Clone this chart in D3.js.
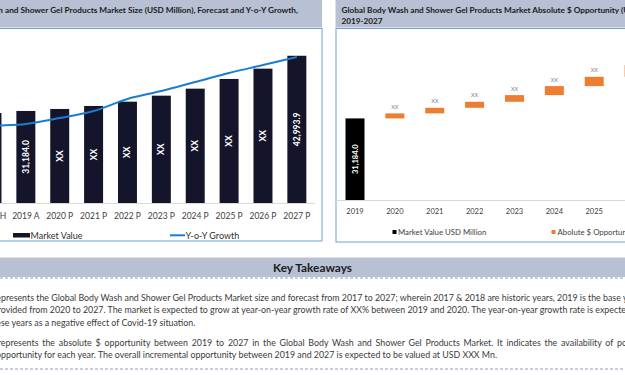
<!DOCTYPE html>
<html><head><meta charset="utf-8">
<script src="https://cdn.jsdelivr.net/npm/d3@7"></script>
<style>html,body{margin:0;padding:0;background:#fff;overflow:hidden}</style>
</head><body>
<svg id="c" width="625" height="375"></svg>
<script>
// ---------- DATA ----------
const sizeCategories = ["2017 H","2018 H","2019 A","2020 P","2021 P","2022 P","2023 P","2024 P","2025 P","2026 P","2027 P"];
const marketValue = [30300, 30756, 31184, 31611, 32253, 33173, 34457, 35955, 38030, 40234, 42993.9];
const marketLabels = ["XX","XX","31,184.0","XX","XX","XX","XX","XX","XX","XX","42,993.9"];
const yoyGrowth = [3.7, 3.85, 3.95, 4.25, 4.6, 5.2, 5.6, 6.05, 6.5, 6.9, 7.3];

const oppCategories = ["2019","2020","2021","2022","2023","2024","2025","2026","2027"];
const oppBase = 31184.0;
const oppIncrements = [1910, 2140, 2290, 2560, 3440, 3550, 4470, 4970];
const oppLabels = ["31,184.0","XX","XX","XX","XX","XX","XX","XX","XX"];

const leftTitle = ["Global Body Wash ", "and Shower Gel Products Market Size (USD Million), Forecast and Y-o-Y Growth,", "2017-2027"];
const rightTitle = ["Global Body Wash and Shower Gel Products Market Absolute $ Opportunity (USD Million),", "2019-2027"];
const leftLegend = ["Market Value", "Y-o-Y Growth"];
const rightLegend = ["Market Value USD Million", "Abolute $ Opportunity"];
const takeawayTitle = "Key Takeaways";
// [cut prefix, full line]
const takeawayLines = [
  ["re", "represents the Global Body Wash and Shower Gel Products Market size and forecast from 2017 to 2027; wherein 2017 & 2018 are historic years, 2019 is the base year, and forecast is"],
  ["pr", "provided from 2020 to 2027. The market is expected to grow at year-on-year growth rate of XX% between 2019 and 2020. The year-on-year growth rate is expected to decline in"],
  ["the", "these years as a negative effect of Covid-19 situation."],
  ["r", "represents the absolute $ opportunity between 2019 to 2027 in the Global Body Wash and Shower Gel Products Market. It indicates the availability of potential growth"],
  ["o", "opportunity for each year. The overall incremental opportunity between 2019 and 2027 is expected to be valued at USD XXX Mn."]
];

// ---------- HELPERS ----------
const svg = d3.select("#c");
const FONT = "Lato, 'Open Sans', sans-serif";
function textWidth(str, size, weight) {
  const t = svg.append("text").attr("font-family", FONT).attr("font-size", size)
    .attr("font-weight", weight || 400).style("white-space", "pre").text(str);
  const w = t.node().getComputedTextLength(); t.remove(); return w;
}
function fitSize(str, width, weight) { return 20 * width / textWidth(str, 20, weight); }

const BAND = "#b7c1d3", BORDER = "#6fa1d8", NAVY = "#14142b", BLUE = "#1b7dd0", ORANGE = "#ee7d31", AXIS = "#d9d9d9", TXT = "#404040";

// ---------- LEFT PANEL ----------
svg.append("rect").attr("x", -10).attr("y", 0).attr("width", 332).attr("height", 27.5).attr("fill", BAND);
svg.append("rect").attr("x", -10).attr("y", 28.5).attr("width", 332).attr("height", 212.5)
  .attr("fill", "#fff").attr("stroke", BORDER).attr("stroke-width", 1);

const tSize = fitSize(leftTitle[1], 293, 700);
const lx = 5 - textWidth(leftTitle[0], tSize, 700);
svg.append("text").attr("x", lx).attr("y", 13).attr("font-family", FONT).attr("font-weight", 700)
  .attr("font-size", tSize).attr("fill", "#1a1a1a").text(leftTitle[0] + leftTitle[1]);
svg.append("text").attr("x", lx).attr("y", 24).attr("font-family", FONT).attr("font-weight", 700)
  .attr("font-size", tSize).attr("fill", "#1a1a1a").text(leftTitle[2]);

const stepL = 33.875;
const xL = d3.scaleBand().domain(sizeCategories)
  .range([-41.9 - stepL / 2, -41.9 - stepL / 2 + stepL * sizeCategories.length])
  .paddingInner(0.44).paddingOuter(0.22);
const yL = d3.scaleLinear().domain([11500, 50000]).range([203, 23]);
const y2 = d3.scaleLinear().domain([0, 8]).range([203, 43]);

svg.append("line").attr("x1", -10).attr("x2", 315).attr("y1", 203.5).attr("y2", 203.5)
  .attr("stroke", AXIS).attr("stroke-width", 1);

const gL = svg.append("g");
gL.selectAll("rect.bar").data(sizeCategories).join("rect").attr("class", "bar")
  .attr("x", d => xL(d)).attr("width", xL.bandwidth())
  .attr("y", (d, i) => yL(marketValue[i])).attr("height", (d, i) => yL(yL.domain()[0]) - yL(marketValue[i]))
  .attr("fill", NAVY);
gL.selectAll("text.val").data(sizeCategories).join("text").attr("class", "val")
  .attr("transform", (d, i) => `translate(${xL(d) + xL.bandwidth() / 2},${(yL(marketValue[i]) + yL(yL.domain()[0])) / 2}) rotate(-90)`)
  .attr("text-anchor", "middle").attr("dominant-baseline", "central")
  .attr("font-family", FONT).attr("font-size", 8.5).attr("font-weight", 700).attr("fill", "#fff")
  .text((d, i) => marketLabels[i]);

const line = d3.line().x((d, i) => xL(sizeCategories[i]) + xL.bandwidth() / 2).y(d => y2(d))
  .curve(d3.curveCatmullRom.alpha(0.5));
gL.append("path").attr("d", line(yoyGrowth)).attr("fill", "none").attr("stroke", BLUE).attr("stroke-width", 2);

const axL = d3.axisBottom(xL).tickSize(0).tickPadding(0);
const gAxL = svg.append("g").attr("transform", "translate(0,203)").call(axL);
gAxL.select(".domain").remove();
gAxL.selectAll("text").attr("y", 16).attr("dy", 0).attr("font-family", FONT).attr("font-size", 8.5).attr("fill", TXT);

svg.append("rect").attr("x", 13).attr("y", 233).attr("width", 17).attr("height", 4.5).attr("fill", NAVY);
svg.append("text").attr("x", 30.5).attr("y", 238.5).attr("font-family", FONT).attr("font-size", 9).attr("fill", "#303030").text(leftLegend[0]);
svg.append("line").attr("x1", 170).attr("x2", 185).attr("y1", 235.3).attr("y2", 235.3).attr("stroke", BLUE).attr("stroke-width", 2);
svg.append("text").attr("x", 185.5).attr("y", 238.5).attr("font-family", FONT).attr("font-size", 9).attr("fill", "#303030").text(leftLegend[1]);

// ---------- RIGHT PANEL ----------
svg.append("rect").attr("x", 335.5).attr("y", 0).attr("width", 300).attr("height", 27.5).attr("fill", BAND);
svg.append("rect").attr("x", 336).attr("y", 28.5).attr("width", 300).attr("height", 213.5)
  .attr("fill", "#fff").attr("stroke", BORDER).attr("stroke-width", 1);
const rtSize = fitSize("Global Body Wash and Shower Gel Products Market Absolute $ Opportunity", 278, 700);
svg.append("text").attr("x", 341.5).attr("y", 13).attr("font-family", FONT).attr("font-weight", 700)
  .attr("font-size", rtSize).attr("fill", "#1a1a1a").text(rightTitle[0]);
svg.append("text").attr("x", 341.5).attr("y", 24).attr("font-family", FONT).attr("font-weight", 700)
  .attr("font-size", rtSize).attr("fill", "#1a1a1a").text(rightTitle[1]);

const stepR = 39.87;
const xR = d3.scaleBand().domain(oppCategories)
  .range([355 - stepR / 2, 355 - stepR / 2 + stepR * oppCategories.length])
  .paddingInner(1 - 19 / stepR).paddingOuter((1 - 19 / stepR) / 2);
const yR = d3.scaleLinear().domain([0, 60000]).range([200, 43]);

svg.append("line").attr("x1", 335.5).attr("x2", 700).attr("y1", 200.5).attr("y2", 200.5)
  .attr("stroke", AXIS).attr("stroke-width", 1);

const cum = [oppBase];
oppIncrements.forEach(v => cum.push(cum[cum.length - 1] + v));
const gR = svg.append("g");
gR.append("rect").attr("x", xR(oppCategories[0])).attr("width", xR.bandwidth())
  .attr("y", yR(oppBase)).attr("height", yR(0) - yR(oppBase)).attr("fill", "#000");
gR.append("text")
  .attr("transform", `translate(${xR(oppCategories[0]) + xR.bandwidth() / 2},${(yR(oppBase) + yR(0)) / 2}) rotate(-90)`)
  .attr("text-anchor", "middle").attr("dominant-baseline", "central")
  .attr("font-family", FONT).attr("font-size", 7.5).attr("font-weight", 700).attr("fill", "#fff").text(oppLabels[0]);
const incCats = oppCategories.slice(1);
gR.selectAll("rect.inc").data(incCats).join("rect").attr("class", "inc")
  .attr("x", d => xR(d)).attr("width", xR.bandwidth())
  .attr("y", (d, i) => yR(cum[i + 1])).attr("height", (d, i) => yR(cum[i]) - yR(cum[i + 1]))
  .attr("fill", ORANGE);
gR.selectAll("text.inc").data(incCats).join("text").attr("class", "inc")
  .attr("x", d => xR(d) + xR.bandwidth() / 2).attr("y", (d, i) => yR(cum[i + 1]) - 4.5)
  .attr("text-anchor", "middle").attr("font-family", FONT).attr("font-size", 5.5).attr("fill", "#7f7f7f")
  .text((d, i) => oppLabels[i + 1]);

const axR = d3.axisBottom(xR).tickSize(0).tickPadding(0);
const gAxR = svg.append("g").attr("transform", "translate(0,200)").call(axR);
gAxR.select(".domain").remove();
gAxR.selectAll("text").attr("y", 14).attr("dy", 0).attr("font-family", FONT).attr("font-size", 7.5).attr("fill", TXT);

svg.append("rect").attr("x", 392.5).attr("y", 230).attr("width", 4).attr("height", 4).attr("fill", "#000");
svg.append("text").attr("x", 398).attr("y", 234.8).attr("font-family", FONT).attr("font-size", 7.8).attr("fill", TXT).text(rightLegend[0]);
svg.append("rect").attr("x", 551.5).attr("y", 230).attr("width", 4).attr("height", 4).attr("fill", ORANGE);
svg.append("text").attr("x", 557.5).attr("y", 234.8).attr("font-family", FONT).attr("font-size", 7.8).attr("fill", TXT).text(rightLegend[1]);

// ---------- KEY TAKEAWAYS ----------
svg.append("rect").attr("x", -5).attr("y", 257.5).attr("width", 640).attr("height", 19.5).attr("fill", BAND);
svg.append("line").attr("x1", 0).attr("x2", 625).attr("y1", 278).attr("y2", 278)
  .attr("stroke", "#8da1c4").attr("stroke-width", 1).attr("stroke-dasharray", "3,2");
svg.append("line").attr("x1", 0).attr("x2", 625).attr("y1", 369).attr("y2", 369)
  .attr("stroke", "#8da1c4").attr("stroke-width", 1).attr("stroke-dasharray", "3,2");
const kSize = fitSize(takeawayTitle, 79, 700);
svg.append("text").attr("x", 312.5).attr("y", 271.5).attr("text-anchor", "middle")
  .attr("font-family", FONT).attr("font-weight", 700).attr("font-size", kSize).attr("fill", "#1a1a1a").text(takeawayTitle);

const pSize = fitSize("presents the Global Body Wash and Shower Gel Products Market size and forecast from 2017 to 2027; wherein 2017 & 2018 are historic years, 2019 is the base", 620, 400);
const lineY = [300.5, 313, 325.5, 345.5, 358];
takeawayLines.forEach((ln, i) => {
  const xs = 1 - textWidth(ln[0], pSize, 400);
  const t = svg.append("text").attr("x", xs).attr("y", lineY[i]).attr("font-family", FONT)
    .attr("font-size", pSize).attr("fill", "#3a3a3a").text(ln[1]);
  if (i === 3) {
    const head = ln[1].slice(0, ln[1].indexOf("potential"));
    const wB = textWidth(head, pSize, 400);
    const nB = (head.match(/ /g) || []).length;
    t.attr("word-spacing", (617 - xs - wB) / nB);
  }
});
</script>
</body></html>
